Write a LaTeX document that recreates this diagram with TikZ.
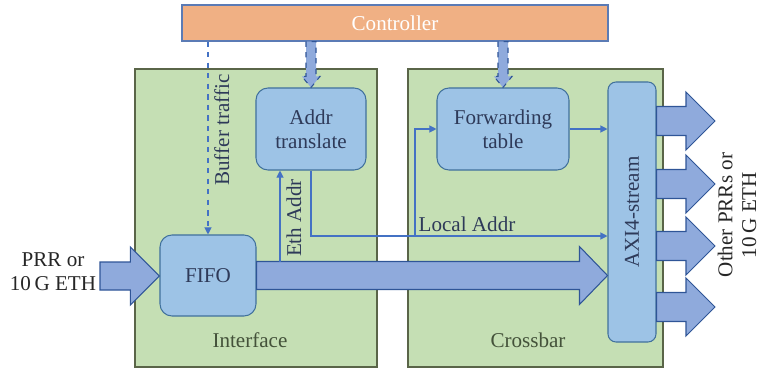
\documentclass[tikz,border=0pt]{standalone}
\usepackage{fontspec}
\setmainfont{Liberation Serif}
\usepackage{tikz}
\usetikzlibrary{positioning,calc,arrows.meta}

\definecolor{regionfill}{HTML}{C5DFB4}
\definecolor{regionline}{HTML}{5A6548}
\definecolor{regiontext}{HTML}{44523A}
\definecolor{boxfill}{HTML}{9DC3E6}
\definecolor{boxline}{HTML}{41719C}
\definecolor{boxtext}{HTML}{2E3A59}
\definecolor{flowfill}{HTML}{8FAADC}
\definecolor{flowline}{HTML}{2F5597}
\definecolor{wireblue}{HTML}{4472C4}
\definecolor{ctrlfill}{HTML}{F0B084}
\definecolor{ctrlline}{HTML}{5B7BB5}

\tikzset {
    style Region/.style={
        fill=regionfill,
        draw=regionline,
        line width=0.6pt,
        rectangle, % Set the shape as a rectangle
    },
    style Box/.style={
        fill=boxfill,
        draw=boxline,
        line width=0.6pt,
        rectangle, % Set the shape as a rectangle
        rounded corners=2.4mm,
        text=boxtext,
        align=center,
    },
    style Ctrl/.style={
        fill=ctrlfill,
        draw=ctrlline,
        line width=0.6pt,
        rectangle, % Set the shape as a rectangle
        text=white,
        align=center,
    },
    style Flow/.style={
        fill=flowfill,
        draw=flowline,
        line width=0.6pt,
    },
    style Wire/.style={
        draw=wireblue,
        line width=0.6pt,
        -{Triangle[length=1.4mm,width=1.4mm]},
    },
    style Label/.style={
        text=boxtext,
        align=center,
    },
}

% fat arrow pointing right: from, to, half shaft, half head, head length
\newcommand{\flowright}[6][]{%
    \draw[style Flow,#1] let \p1=(#2), \p2=(#3) in
        (\x1,\y1+#4) -- (\x2-#6,\y1+#4) -- (\x2-#6,\y1+#5) -- (\x2,\y1)
        -- (\x2-#6,\y1-#5) -- (\x2-#6,\y1-#4) -- (\x1,\y1-#4) -- cycle;
}
% fat arrow pointing down: from, to, half shaft, half head, head length
\newcommand{\flowdown}[6][]{%
    \draw[style Flow,#1] let \p1=(#2), \p2=(#3) in
        (\x1-#4,\y1) -- (\x1-#4,\y2+#6) -- (\x1-#5,\y2+#6) -- (\x1,\y2)
        -- (\x1+#5,\y2+#6) -- (\x1+#4,\y2+#6) -- (\x1+#4,\y1) -- cycle;
}

\begin{document}
\begin{tikzpicture}
        [x=0.2mm, y=-0.2mm, font=\fontsize{12}{13.5}\selectfont]
        \useasboundingbox (0,0) rectangle (758,370);

        % the two blocks
        \node[style Region, minimum width=48.4mm, minimum height=59.6mm] at (256,218) (iface) {};
        \node[style Region, minimum width=51mm, minimum height=59.6mm] at (535.5,218) (xbar) {};
        \node[text=regiontext] at (250,340) (ifacename) {Interface};
        \node[text=regiontext] at (528,340) (xbarname) {Crossbar};

        \node[style Ctrl, minimum width=85.2mm, minimum height=7.2mm] at (395,23) (ctrl) {Controller};

        \node[style Box, minimum width=22mm, minimum height=16.4mm] at (311,129) (addr) {Addr\\translate};
        \node[style Box, minimum width=19.2mm, minimum height=16.2mm] at (208,275.5) (fifo) {FIFO};
        \node[style Box, minimum width=26.4mm, minimum height=16.4mm] at (503,129) (fwd) {Forwarding\\table};
        \node[style Box, rounded corners=1.6mm, minimum width=9.6mm, minimum height=52mm] at (632,212) (axi) {};
        \node[style Label, rotate=90] at (axi.center) (axiname) {AXI4-stream};

        % data path
        \coordinate (prrin) at (100,276);
        \flowright{prrin}{fifo.west}{2.8mm}{5.8mm}{5.8mm}
        \flowright{fifo.east}{fifo.east -| axi.west}{2.8mm}{5.8mm}{5.6mm}
        \foreach \y [count=\i] in {121,184,246,307} {
            \coordinate (out\i) at (715,\y);
            \flowright{axi.east |- out\i}{out\i}{2.9mm}{5.8mm}{5.8mm}
        }

        % controller links
        \flowdown[dashed]{ctrl.south -| addr.north}{addr.north}{1mm}{1.8mm}{2.2mm}
        \flowdown[dashed]{ctrl.south -| fwd.north}{fwd.north}{1mm}{1.8mm}{2.2mm}
        \draw[style Wire, dashed] (ctrl.south -| fifo.north) -- node[style Label, rotate=90, below=1pt, pos=0.45] {Buffer traffic} (fifo.north);

        % address lookup
        \coordinate (ethsrc) at (280,262);
        \draw[style Wire] (ethsrc) -- node[style Label, rotate=90, below=1pt] {Eth Addr} (ethsrc |- addr.south);
        \coordinate (split) at (415,236);
        \draw[style Wire] (addr.south) |- (split) -- (split -| axi.west);
        \draw[style Wire] (split) |- (fwd.west);
        \draw[style Wire] (fwd.east) -- (fwd.east -| axi.west);
        \node[style Label] at (467,224) (localaddr) {Local Addr};

        \node[text=black!85, align=center] at (53,272) (prrname) {PRR or\\10\,G ETH};
        \node[text=black!85, align=center, rotate=90, inner sep=0pt] at (737,215) (othername) {Other PRRs or\\10\,G ETH};
    \end{tikzpicture}
\end{document}
